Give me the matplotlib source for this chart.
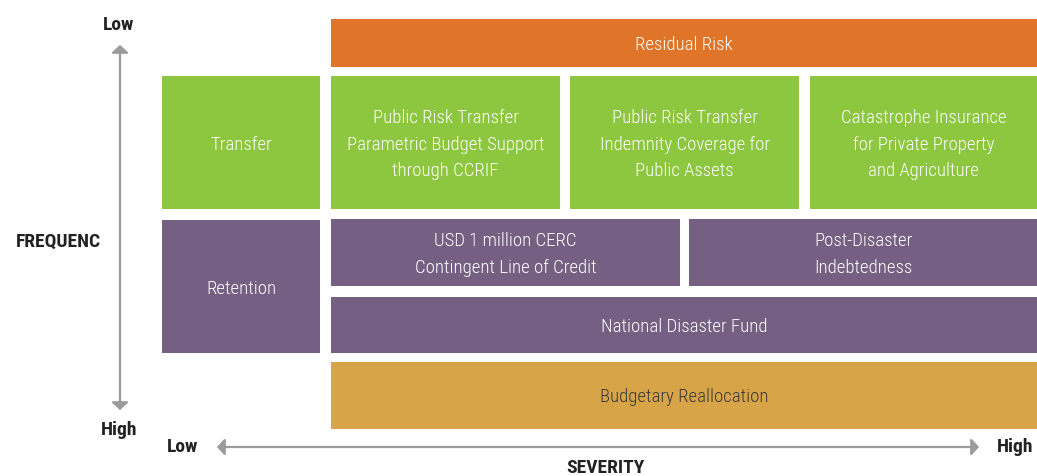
import matplotlib
matplotlib.use("Agg")
from matplotlib import pyplot as plt
from matplotlib.patches import Rectangle

plt.rcParams['font.family'] = ['Roboto Condensed', 'DejaVu Sans']

# boxes: label, left, right, top, bottom (pixel grid of the diagram)
labels = ["Residual Risk",
          "Transfer",
          "Public Risk Transfer\nParametric Budget Support\nthrough CCRIF",
          "Public Risk Transfer\nIndemnity Coverage for\nPublic Assets",
          "Catastrophe Insurance\nfor Private Property\nand Agriculture",
          "Retention",
          "USD 1 million CERC\nContingent Line of Credit",
          "Post-Disaster\nIndebtedness",
          "National Disaster Fund",
          "Budgetary Reallocation"]
lefts = [331, 162, 331, 570, 810, 162, 331, 689, 331, 331]
rights = [1037, 320, 560, 799, 1037, 320, 680, 1037, 1037, 1037]
tops = [19, 76, 76, 76, 76, 220, 219, 219, 297, 362]
bottoms = [67, 209, 209, 209, 209, 353, 286, 286, 353, 429]
kinds = ["residual", "transfer", "transfer", "transfer", "transfer",
         "retention", "retention", "retention", "retention", "budget"]

colors = {"residual": "#E07428", "transfer": "#8DC63F",
          "retention": "#756083", "budget": "#D8A448"}
text_colors = {"residual": "white", "transfer": "white",
               "retention": "white", "budget": "#3a3a3a"}

W, H = 1037, 476
fig = plt.figure(figsize=(W / 100, H / 100), dpi=100)
ax = fig.add_axes([0, 0, 1, 1])
ax.set_xlim(0, W)
ax.set_ylim(H, 0)
ax.axis("off")

for lab, l, r, t, b, k in zip(labels, lefts, rights, tops, bottoms, kinds):
    ax.add_patch(Rectangle((l, t), r - l, b - t, facecolor=colors[k], edgecolor="none"))
    ax.text((l + r) / 2, (t + b) / 2 + 2, lab, ha="center", va="center",
            color=text_colors[k], fontsize=13.5, fontweight="light", linespacing=1.62)

ARROW = "#9b9b9b"
astyle = "<|-|>,head_length=0.45,head_width=0.5"
# frequency axis
ax.annotate("", xy=(120, 45), xytext=(120, 410),
            arrowprops=dict(arrowstyle=astyle, color=ARROW, lw=1.6,
                            mutation_scale=10, shrinkA=0, shrinkB=0))
# severity axis
ax.annotate("", xy=(979, 447), xytext=(217, 447),
            arrowprops=dict(arrowstyle=astyle, color=ARROW, lw=1.6,
                            mutation_scale=10, shrinkA=0, shrinkB=0))

bold = dict(fontsize=14, fontweight="bold", color="#222222", ha="center", va="center")
ax.text(119, 25, "Low", **bold)
ax.text(119, 430, "High", **bold)
ax.text(183, 447, "Low", **bold)
ax.text(1015, 447, "High", **bold)
ax.text(58, 242, "FREQUENC", **bold)
ax.text(605, 468, "SEVERITY", **bold)

fig.savefig("out.png", dpi=100)
